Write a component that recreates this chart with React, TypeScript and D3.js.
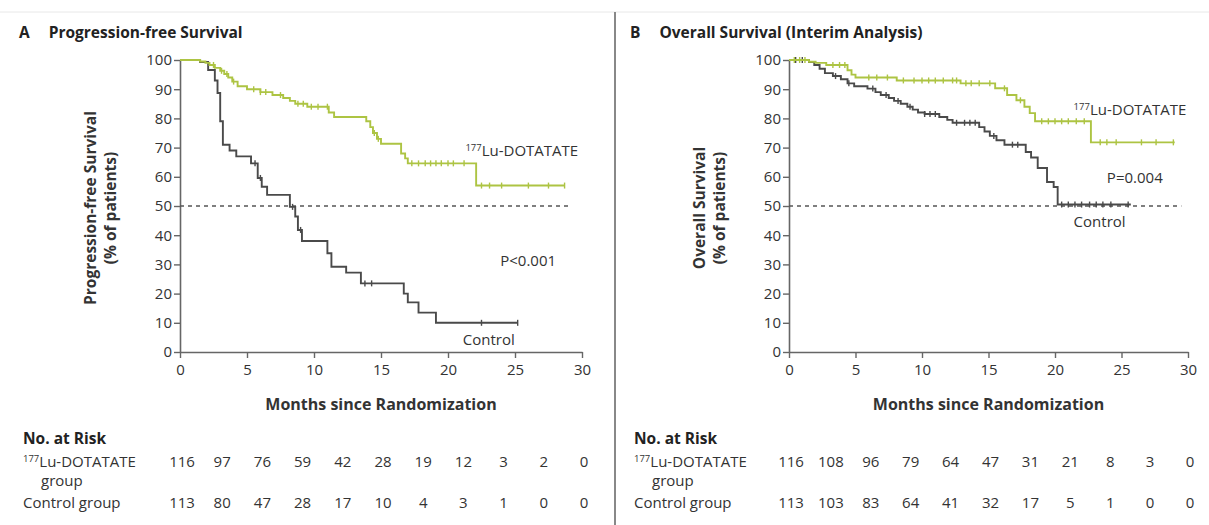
import * as React from 'react';
import * as d3 from 'd3';

// Kaplan-Meier steps: [month, % surviving from that month on]
const pfsLuSteps: Array<[number, number]> = [
    [0, 100], [1.5, 99.5], [1.9, 99], [2.2, 98.3], [2.6, 97.3], [3.0, 96.3], [3.3, 95.2],
    [3.6, 94], [3.9, 92.6], [4.3, 91], [5.0, 90], [6.0, 89], [6.9, 88], [7.7, 87],
    [8.2, 86], [8.6, 85], [9.5, 84], [11.1, 82], [11.5, 80.5], [13.9, 79], [14.2, 77],
    [14.4, 75], [14.7, 73], [15.0, 71.3], [16.5, 68], [16.8, 66.3], [17.0, 64.6], [22.1, 57]
];
const pfsLuEnd = 28.7;
const pfsLuCensor = [2.5, 3.1, 3.5, 4.0, 5.5, 6.0, 6.4, 7.5, 8.8, 9.2, 9.8, 10.3, 11.0, 14.5, 14.8,
    17.3, 17.8, 18.3, 18.7, 19.1, 19.5, 20.0, 20.4, 21.2, 22.5, 23.1, 24.0, 26.0, 27.5, 28.7];

const pfsCtrlSteps: Array<[number, number]> = [
    [0, 100], [1.5, 99.3], [2.1, 96.6], [2.6, 93], [2.8, 88.7], [3.0, 79], [3.2, 71],
    [3.7, 69], [4.2, 67], [5.3, 64.6], [5.8, 59.6], [6.1, 56.6], [6.5, 53.8], [8.2, 49.7],
    [8.6, 46.4], [8.8, 41.8], [9.1, 38], [11.0, 33.8], [11.3, 29.2], [12.4, 27.2],
    [13.5, 23.5], [16.7, 20], [17.0, 17], [17.8, 13.5], [19.1, 10]
];
const pfsCtrlEnd = 25.2;
const pfsCtrlCensor = [5.6, 6.0, 8.4, 9.0, 13.8, 14.3, 22.5, 25.2];

const osLuSteps: Array<[number, number]> = [
    [0, 100], [1.5, 99.4], [2.0, 99], [2.8, 98.3], [4.4, 96.5], [4.7, 95], [5.0, 94],
    [8.1, 93], [12.9, 92], [15.5, 90.3], [16.4, 88], [17.1, 86.2], [17.7, 84], [18.1, 81.8],
    [18.5, 79], [22.7, 71.8]
];
const osLuEnd = 29.0;
const osLuCensor = [0.4, 0.8, 1.2, 3.3, 3.8, 4.2, 6.0, 6.6, 7.4, 8.6, 9.4, 10.0, 10.5, 11.0, 11.6,
    12.3, 12.6, 13.3, 13.7, 14.3, 15.1, 16.2, 17.4, 19.0, 19.5, 20.0, 20.5, 21.0, 21.6, 22.2,
    23.4, 23.9, 24.6, 26.5, 27.6, 28.9];

const osCtrlSteps: Array<[number, number]> = [
    [0, 100], [1.5, 99.3], [1.9, 98.3], [2.3, 97], [2.7, 95.5], [3.3, 94.5], [3.9, 93.4],
    [4.4, 92], [4.9, 91], [5.9, 90.2], [6.5, 89], [6.9, 88], [7.5, 87], [7.9, 86], [8.4, 85],
    [8.9, 84], [9.3, 83], [9.7, 82], [10.2, 81.5], [11.3, 80.5], [11.9, 79.5], [12.3, 78.5],
    [14.3, 77], [14.7, 75.5], [15.1, 74], [15.6, 72.5], [16.2, 71], [17.8, 68.5], [18.2, 66.6],
    [18.7, 63], [19.4, 58.2], [19.9, 56.5], [20.2, 50.5]
];
const osCtrlEnd = 25.7;
const osCtrlCensor = [0.5, 1.0, 3.5, 4.5, 6.3, 7.3, 8.2, 9.1, 10.2, 10.6, 11.0, 12.6, 13.2, 13.6,
    14.0, 15.4, 16.8, 17.2, 20.5, 21.0, 21.5, 22.0, 22.6, 23.1, 23.6, 24.2, 25.5];

const xTicks = [0, 5, 10, 15, 20, 25, 30];
const yTicks = [0, 10, 20, 30, 40, 50, 60, 70, 80, 90, 100];
const riskMonths = [0, 3, 6, 9, 12, 15, 18, 21, 24, 27, 30];
const pfsRiskLu = [116, 97, 76, 59, 42, 28, 19, 12, 3, 2, 0];
const pfsRiskCtrl = [113, 80, 47, 28, 17, 10, 4, 3, 1, 0, 0];
const osRiskLu = [116, 108, 96, 79, 64, 47, 31, 21, 8, 3, 0];
const osRiskCtrl = [113, 103, 83, 64, 41, 32, 17, 5, 1, 0, 0];

const GREEN = '#adc443';
const DARK = '#4a4a4a';
const TEXT = '#333';
const FONT = '"Open Sans", Lato, sans-serif';

interface PanelSpec {
    letter: string;
    title: string;
    yTitle: string;
    left: number;
    right: number;
    luSteps: Array<[number, number]>;
    luEnd: number;
    luCensor: number[];
    ctrlSteps: Array<[number, number]>;
    ctrlEnd: number;
    ctrlCensor: number[];
    riskLu: number[];
    riskCtrl: number[];
    pText: string;
    luLabel: [number, number];
    pLabel: [number, number];
    ctrlLabel: [number, number];
    dashEnd: number;
}

const panels: PanelSpec[] = [
    {
        letter: 'A', title: 'Progression-free Survival', yTitle: 'Progression-free Survival',
        left: 180, right: 582,
        luSteps: pfsLuSteps, luEnd: pfsLuEnd, luCensor: pfsLuCensor,
        ctrlSteps: pfsCtrlSteps, ctrlEnd: pfsCtrlEnd, ctrlCensor: pfsCtrlCensor,
        riskLu: pfsRiskLu, riskCtrl: pfsRiskCtrl,
        pText: 'P<0.001', luLabel: [21.3, 69], pLabel: [23.9, 31], ctrlLabel: [21.1, 4],
        dashEnd: 29
    },
    {
        letter: 'B', title: 'Overall Survival (Interim Analysis)', yTitle: 'Overall Survival',
        left: 789, right: 1188,
        luSteps: osLuSteps, luEnd: osLuEnd, luCensor: osLuCensor,
        ctrlSteps: osCtrlSteps, ctrlEnd: osCtrlEnd, ctrlCensor: osCtrlCensor,
        riskLu: osRiskLu, riskCtrl: osRiskCtrl,
        pText: 'P=0.004', luLabel: [21.4, 83], pLabel: [23.9, 59.5], ctrlLabel: [21.4, 44.5],
        dashEnd: 29.5
    }
];

const TOP = 60;
const BOTTOM = 352;

function valueAt(steps: Array<[number, number]>, t: number) {
    let v = steps[0][1];
    for (const s of steps) {
        if (s[0] <= t) { v = s[1]; }
    }
    return v;
}

function drawPanel(svg: d3.Selection<SVGSVGElement, unknown, null, undefined>, p: PanelSpec, offset: number) {
    const x = d3.scaleLinear().domain([0, 30]).range([p.left, p.right]);
    const y = d3.scaleLinear().domain([0, 100]).range([BOTTOM, TOP]);
    const g = svg.append('g').style('font-family', FONT);

    // title
    const title = g.append('text').attr('x', offset + 19).attr('y', 38)
        .attr('font-size', 15.5).attr('font-weight', 700).attr('fill', '#222');
    title.append('tspan').text(p.letter);
    title.append('tspan').attr('dx', 19).text(p.title);

    // y title
    const yt = g.append('text')
        .attr('transform', 'translate(' + (p.left - 84) + ',' + ((TOP + BOTTOM) / 2 + 2) + ') rotate(-90)')
        .attr('text-anchor', 'middle').attr('font-size', 15.5).attr('font-weight', 700).attr('fill', TEXT);
    yt.append('tspan').attr('x', 0).attr('dy', 0).text(p.yTitle);
    yt.append('tspan').attr('x', 0).attr('dy', 20).text('(% of patients)');

    // axes
    const yAxis = g.append('g').attr('transform', 'translate(' + p.left + ',0)')
        .call(d3.axisLeft(y).tickValues(yTicks).tickSize(6).tickPadding(2).tickSizeOuter(0));
    const xAxis = g.append('g').attr('transform', 'translate(0,' + BOTTOM + ')')
        .call(d3.axisBottom(x).tickValues(xTicks).tickSize(6).tickPadding(6).tickSizeOuter(0));
    [yAxis, xAxis].forEach(a => {
        a.select('.domain').attr('stroke', '#666').attr('stroke-width', 1.6);
        a.selectAll('.tick line').attr('stroke', '#666').attr('stroke-width', 1.4);
        a.selectAll('.tick text').attr('fill', TEXT).attr('font-size', 15).style('font-family', FONT);
    });

    g.append('text').attr('x', (p.left + p.right) / 2).attr('y', 410)
        .attr('text-anchor', 'middle').attr('font-size', 16).attr('font-weight', 700).attr('fill', TEXT)
        .text('Months since Randomization');

    // median line
    g.append('line').attr('x1', x(0)).attr('x2', x(p.dashEnd)).attr('y1', y(50)).attr('y2', y(50))
        .attr('stroke', '#555').attr('stroke-width', 1.5).attr('stroke-dasharray', '4,4');

    const line = d3.line<[number, number]>().x(d => x(d[0])).y(d => y(d[1])).curve(d3.curveStepAfter);
    const curves = [
        { steps: p.ctrlSteps, end: p.ctrlEnd, censor: p.ctrlCensor, color: DARK },
        { steps: p.luSteps, end: p.luEnd, censor: p.luCensor, color: GREEN }
    ];
    curves.forEach(c => {
        const pts: Array<[number, number]> = c.steps.concat([[c.end, c.steps[c.steps.length - 1][1]]]);
        g.append('path').attr('d', line(pts) as string).attr('fill', 'none')
            .attr('stroke', c.color).attr('stroke-width', 1.9);
        g.selectAll(null).data(c.censor).enter().append('line')
            .attr('x1', d => x(d)).attr('x2', d => x(d))
            .attr('y1', d => y(valueAt(c.steps, d)) - 3).attr('y2', d => y(valueAt(c.steps, d)) + 3)
            .attr('stroke', c.color).attr('stroke-width', 1.4);
    });

    // curve labels
    const lu = g.append('text').attr('x', x(p.luLabel[0])).attr('y', y(p.luLabel[1]) + 5)
        .attr('font-size', 15).attr('fill', TEXT);
    lu.append('tspan').attr('font-size', 9.5).attr('dy', -5).text('177');
    lu.append('tspan').attr('dy', 5).text('Lu-DOTATATE');
    g.append('text').attr('x', x(p.pLabel[0])).attr('y', y(p.pLabel[1]) + 5)
        .attr('font-size', 15).attr('fill', TEXT).text(p.pText);
    g.append('text').attr('x', x(p.ctrlLabel[0])).attr('y', y(p.ctrlLabel[1]) + 5)
        .attr('font-size', 15).attr('fill', TEXT).text('Control');

    // number at risk
    g.append('text').attr('x', offset + 23).attr('y', 444).attr('font-size', 15.5).attr('font-weight', 700)
        .attr('fill', '#222').text('No. at Risk');
    const r1 = g.append('text').attr('x', offset + 23).attr('y', 467).attr('font-size', 15).attr('fill', TEXT);
    r1.append('tspan').attr('font-size', 9.5).attr('dy', -5).text('177');
    r1.append('tspan').attr('dy', 5).text('Lu-DOTATATE');
    g.append('text').attr('x', offset + 41).attr('y', 486).attr('font-size', 15).attr('fill', TEXT).text('group');
    g.append('text').attr('x', offset + 23).attr('y', 508).attr('font-size', 15).attr('fill', TEXT).text('Control group');
    [{ vals: p.riskLu, yy: 467 }, { vals: p.riskCtrl, yy: 508 }].forEach(row => {
        g.selectAll(null).data(row.vals).enter().append('text')
            .attr('x', (d, i) => x(riskMonths[i]) + 2).attr('y', row.yy)
            .attr('text-anchor', 'middle').attr('font-size', 15).attr('fill', TEXT)
            .text(d => String(d));
    });
}

const App = () => {
    const ref = React.useRef<SVGSVGElement>(null);

    React.useEffect(() => {
        if (!ref.current) { return; }
        const svg = d3.select(ref.current);
        svg.selectAll('*').remove();
        svg.append('rect').attr('width', 1209).attr('height', 525).attr('fill', '#fff');
        svg.append('line').attr('x1', 0).attr('x2', 1209).attr('y1', 12).attr('y2', 12)
            .attr('stroke', '#e8e8e8').attr('stroke-width', 1);
        svg.append('line').attr('x1', 615).attr('x2', 615).attr('y1', 12).attr('y2', 525)
            .attr('stroke', '#888').attr('stroke-width', 2);
        drawPanel(svg, panels[0], 0);
        drawPanel(svg, panels[1], 611);
    }, []);

    return (
        <svg ref={ref} width={1209} height={525}
            style={{ position: 'absolute', left: 0, top: 0, display: 'block' }} />
    );
};

export default App;
